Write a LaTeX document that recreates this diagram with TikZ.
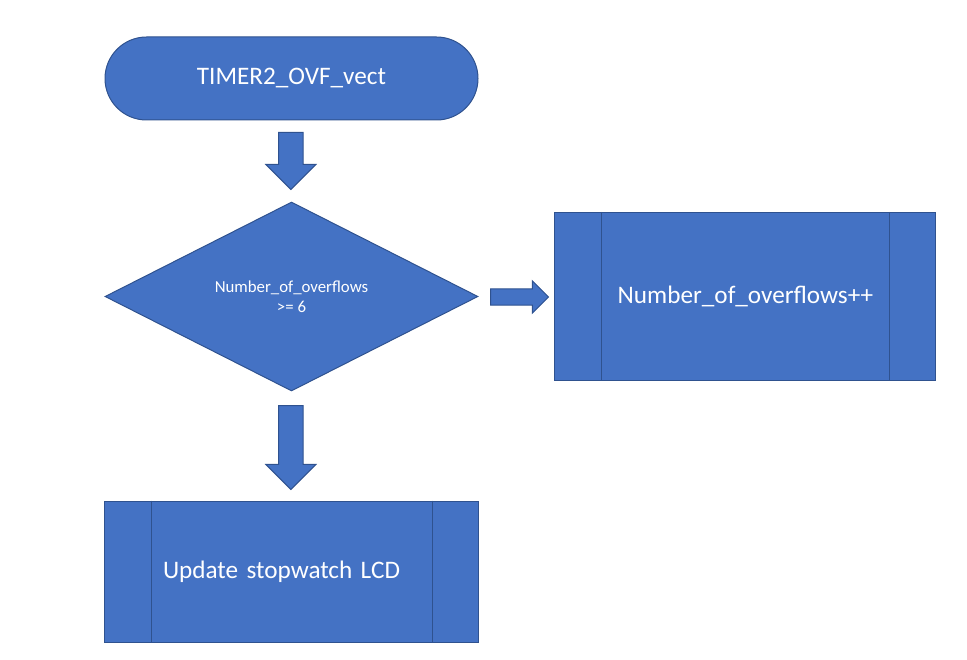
\documentclass[tikz,border=0pt]{standalone}
\usepackage{fontspec}
\setmainfont{Carlito}
\usetikzlibrary{shapes.geometric,shapes.arrows}
\definecolor{boxfill}{HTML}{4472C4}
\definecolor{boxline}{HTML}{2F528F}
\begin{document}
\begin{tikzpicture}[x=1pt, y=-1pt, align=center]
\tikzstyle{blk} = [draw=boxline, fill=boxfill, text=white, line width=1pt]
\tikzstyle{term} = [blk, rounded corners=41.5pt, minimum width=373pt, minimum height=83pt, font=\fontsize{25.2}{30}\selectfont]
\tikzstyle{dec} = [blk, diamond, aspect=2, inner sep=0pt, minimum width=373pt, minimum height=189pt, font=\fontsize{16.8}{20}\selectfont]
\tikzstyle{proc} = [blk, rectangle, font=\fontsize{25.2}{30}\selectfont]
\tikzstyle{arr} = [blk, single arrow, minimum width=0pt, anchor=tail]
\tikzstyle{e} = [draw=boxline, line width=1pt]

\useasboundingbox (0,0) rectangle (967,660);

\node[term] (T) at (291.5, 78.5) {TIMER2\_OVF\_vect};
\node[dec] (D) at (291.5, 296.5) {Number\_of\_overflows\\>= 6};
\node[proc, minimum width=381pt, minimum height=168pt] (P) at (745.4, 296.3) {Number\_of\_overflows++};
\node[proc, minimum width=374pt, minimum height=141pt, text width=257.6pt, align=left] (U) at (291.8, 571.7) {Update stopwatch LCD};

\node[arr, shape border rotate=270, inner sep=11.8pt, single arrow head extend=12.7pt, minimum height=57pt] (A1) at (290.8, 132) {};
\node[arr, shape border rotate=270, inner sep=11.8pt, single arrow head extend=12.7pt, minimum height=84pt] (A2) at (290.8, 405) {};
\node[arr, inner sep=7.6pt, single arrow head extend=8pt, minimum height=58pt] (A3) at (490, 297) {};

\draw[e] ([xshift=47pt]P.north west) -- ([xshift=47pt]P.south west);
\draw[e] ([xshift=-47pt]P.north east) -- ([xshift=-47pt]P.south east);
\draw[e] ([xshift=47pt]U.north west) -- ([xshift=47pt]U.south west);
\draw[e] ([xshift=-47pt]U.north east) -- ([xshift=-47pt]U.south east);
\end{tikzpicture}
\end{document}
